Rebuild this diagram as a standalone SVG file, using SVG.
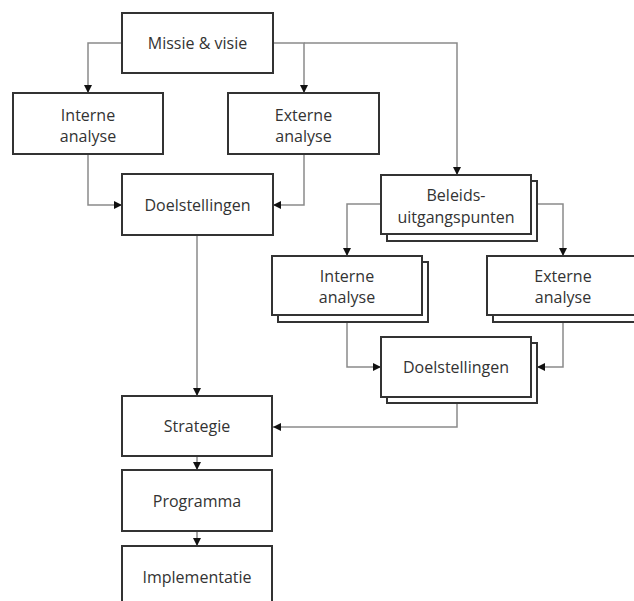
<svg xmlns="http://www.w3.org/2000/svg" width="634" height="601" viewBox="0 0 634 601">
<style>
.box{fill:#fff;stroke:#333;stroke-width:2}
.t{font-family:"Open Sans","DejaVu Sans",sans-serif;font-size:16px;font-weight:500;fill:#333;text-anchor:middle}
.c{fill:none;stroke:#8a8a8a;stroke-width:1.5}
</style>
<defs>
<marker id="a" viewBox="0 0 10 10" refX="10" refY="5" markerWidth="8" markerHeight="8" markerUnits="userSpaceOnUse" orient="auto">
<path d="M0,0 L10,5 L0,10 Z" fill="#111"/>
</marker>
</defs>
<rect width="634" height="601" fill="#fff"/>
<g id="connectors">
<path class="c" d="M122,43 H88 V93" marker-end="url(#a)"/>
<path class="c" d="M273,43 H304 V93" marker-end="url(#a)"/>
<path class="c" d="M304,43 H457 V175" marker-end="url(#a)"/>
<path class="c" d="M88,154 V205 H122" marker-end="url(#a)"/>
<path class="c" d="M304,154 V205 H273" marker-end="url(#a)"/>
<path class="c" d="M197,235 V396" marker-end="url(#a)"/>
<path class="c" d="M381,204 H347 V256" marker-end="url(#a)"/>
<path class="c" d="M537,204 H563 V256" marker-end="url(#a)"/>
<path class="c" d="M347,322 V367 H381" marker-end="url(#a)"/>
<path class="c" d="M563,322 V367 H537" marker-end="url(#a)"/>
<path class="c" d="M457,403 V427 H273" marker-end="url(#a)"/>
<path class="c" d="M197,456 V470" marker-end="url(#a)"/>
<path class="c" d="M197,531 V546" marker-end="url(#a)"/>
</g>
<g id="missie">
<rect class="box" x="122" y="13" width="151" height="60"/>
<text class="t" x="197.5" y="49">Missie &amp; visie</text>
</g>
<g id="interne1">
<rect class="box" x="13" y="93" width="150" height="61"/>
<text class="t" x="88" y="121">Interne</text>
<text class="t" x="88" y="142">analyse</text>
</g>
<g id="externe1">
<rect class="box" x="228" y="93" width="151" height="61"/>
<text class="t" x="303.5" y="121">Externe</text>
<text class="t" x="303.5" y="142">analyse</text>
</g>
<g id="doel1">
<rect class="box" x="122" y="174" width="151" height="61"/>
<text class="t" x="197.5" y="211">Doelstellingen</text>
</g>
<g id="beleids">
<rect class="box" x="387" y="181" width="150" height="60"/>
<rect class="box" x="381" y="175" width="150" height="59"/>
<text class="t" x="456" y="201">Beleids-</text>
<text class="t" x="456" y="223">uitgangspunten</text>
</g>
<g id="interne2">
<rect class="box" x="278" y="262" width="150" height="60"/>
<rect class="box" x="272" y="256" width="150" height="59"/>
<text class="t" x="347" y="282">Interne</text>
<text class="t" x="347" y="303">analyse</text>
</g>
<g id="externe2">
<rect class="box" x="493" y="262" width="160" height="60"/>
<rect class="box" x="487" y="256" width="160" height="59"/>
<text class="t" x="563" y="282">Externe</text>
<text class="t" x="563" y="303">analyse</text>
</g>
<g id="doel2">
<rect class="box" x="387" y="343" width="150" height="60"/>
<rect class="box" x="381" y="337" width="150" height="60"/>
<text class="t" x="456" y="373">Doelstellingen</text>
</g>
<g id="strategie">
<rect class="box" x="122" y="396" width="150" height="60"/>
<text class="t" x="197" y="432">Strategie</text>
</g>
<g id="programma">
<rect class="box" x="122" y="470" width="150" height="61"/>
<text class="t" x="197" y="507">Programma</text>
</g>
<g id="implementatie">
<rect class="box" x="122" y="546" width="150" height="70"/>
<text class="t" x="197" y="583">Implementatie</text>
</g>
</svg>
